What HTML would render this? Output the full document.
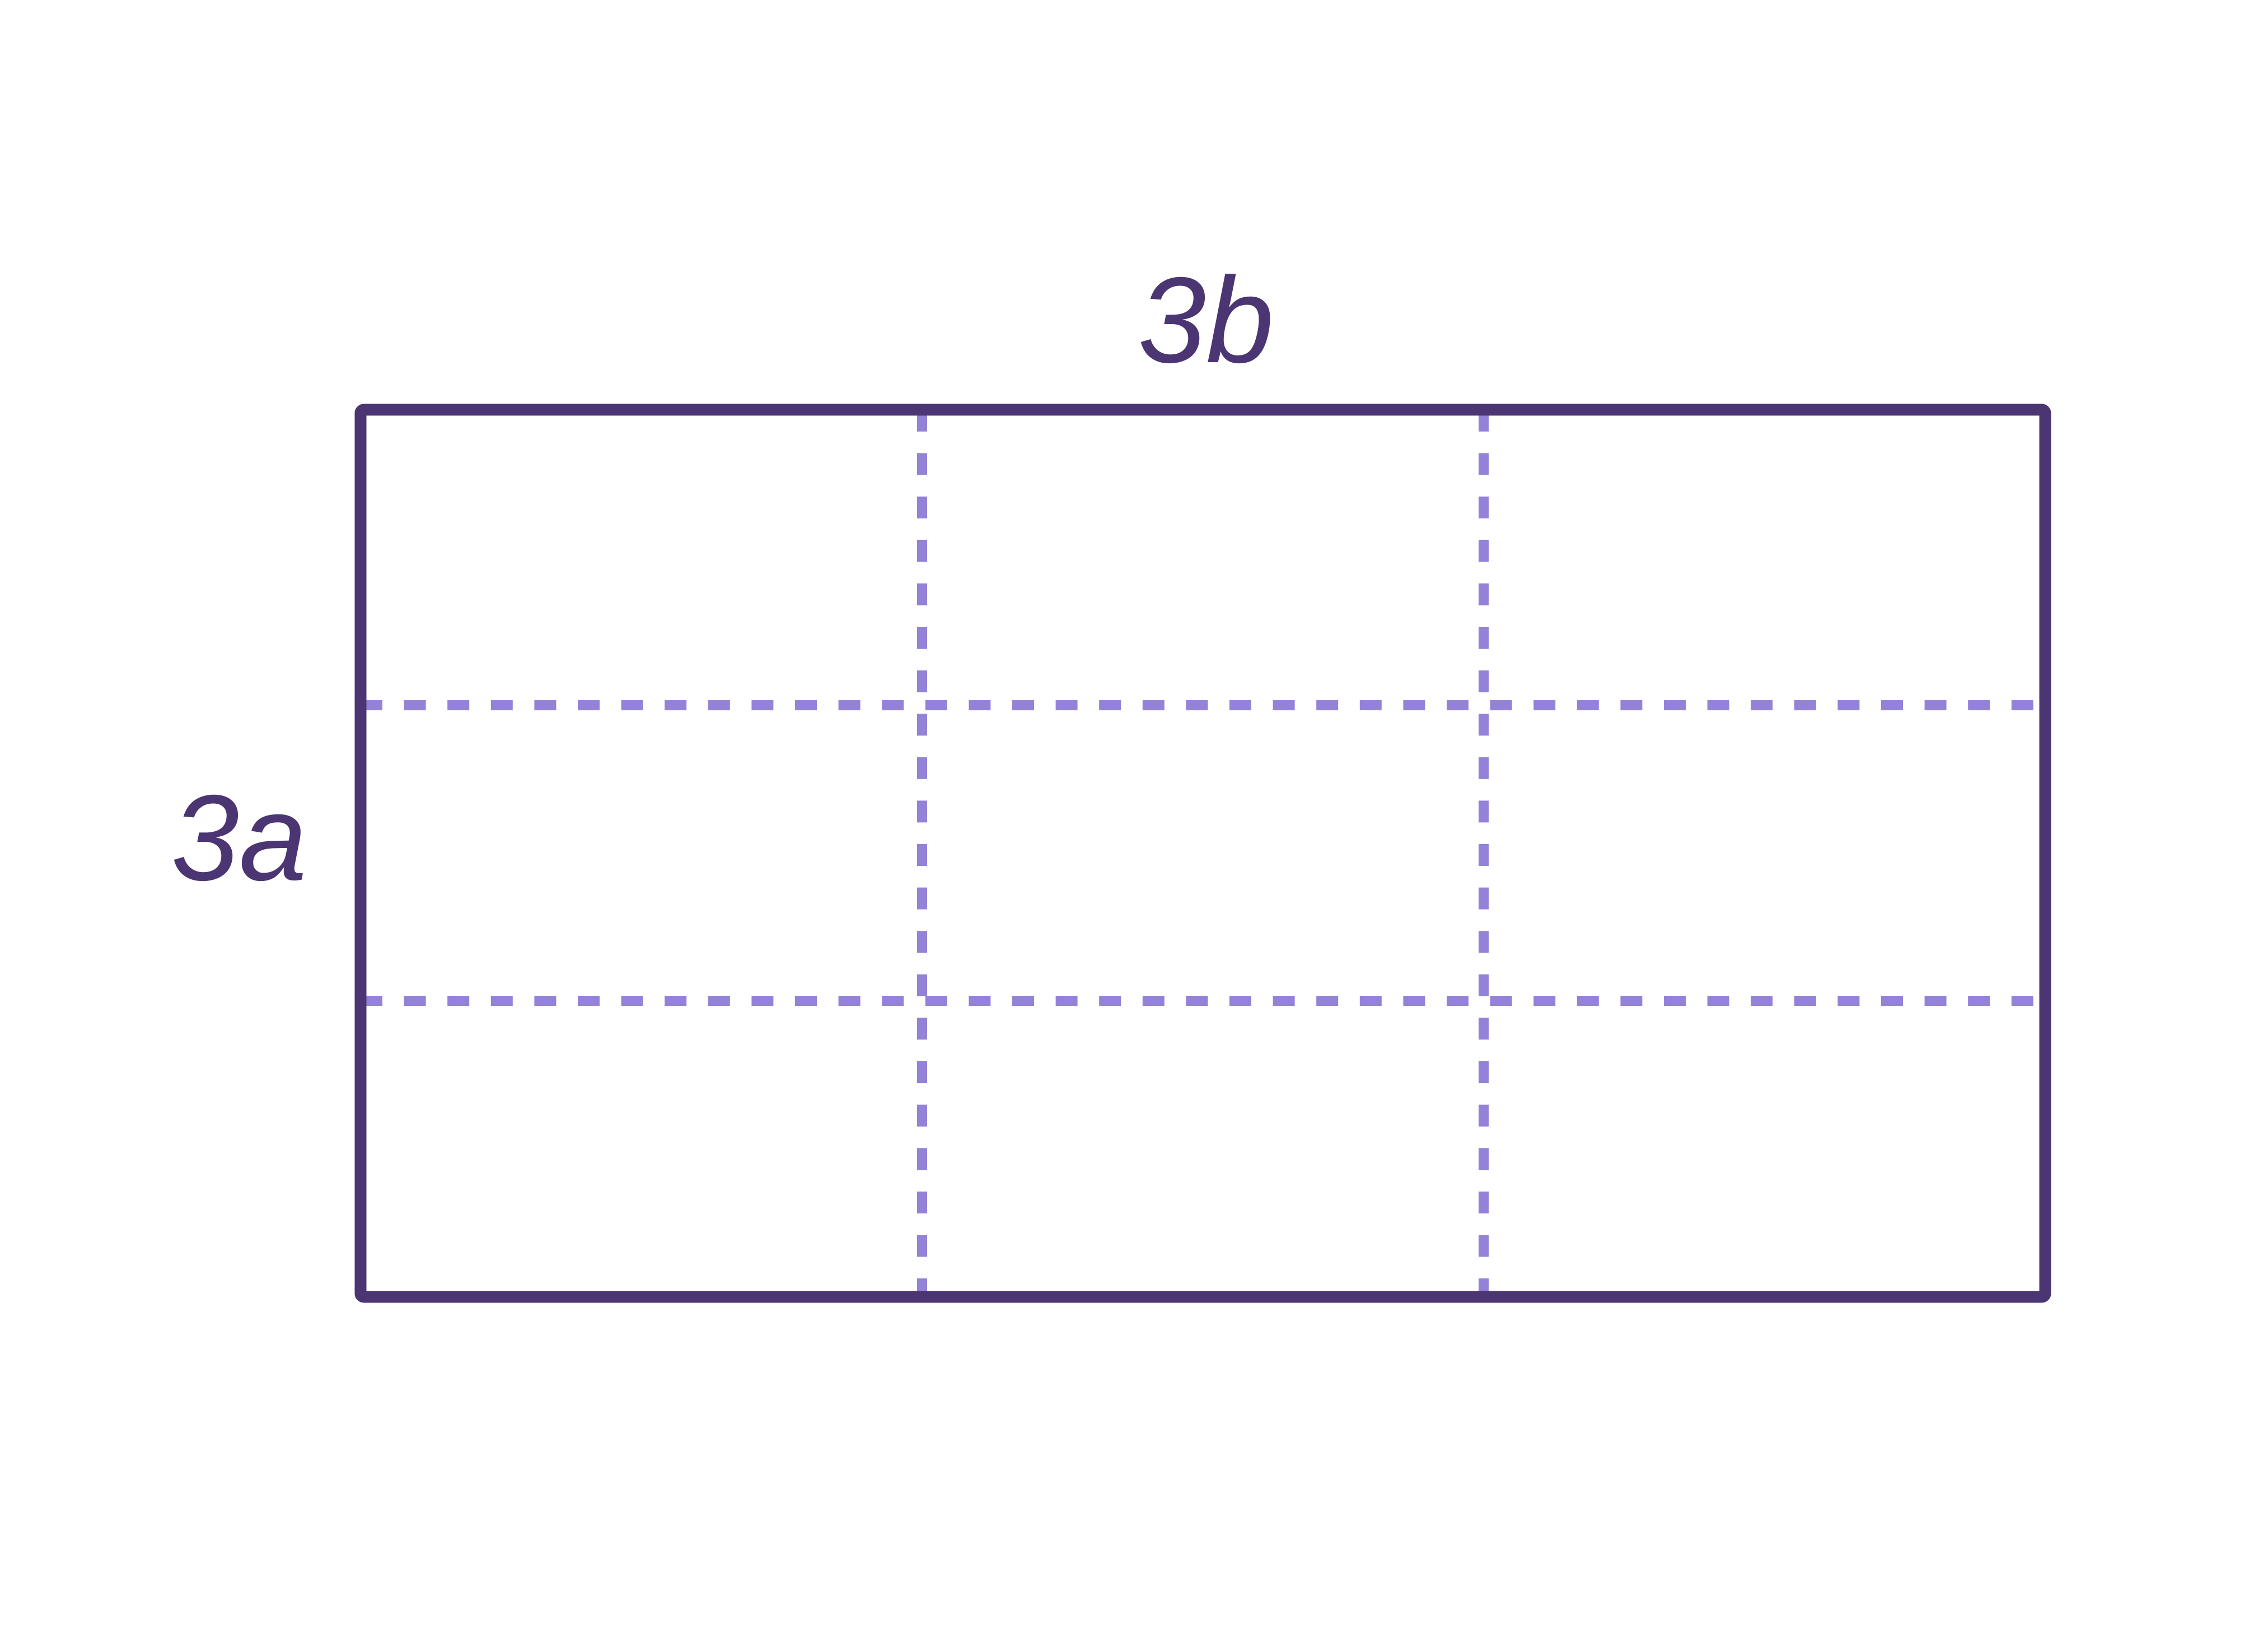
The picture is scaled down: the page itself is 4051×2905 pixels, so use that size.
<!DOCTYPE html>
<html>
<head>
<meta charset="utf-8">
<style>
html,body{margin:0;padding:0;background:#fff;}
svg{display:block;}
</style>
</head>
<body>
<svg width="4051" height="2905" viewBox="0 0 4051 2905" xmlns="http://www.w3.org/2000/svg">
  <rect x="0" y="0" width="4051" height="2905" fill="#ffffff"/>
  <g stroke="#9382d8" stroke-width="18" stroke-dasharray="39 38.6" stroke-linecap="butt" fill="none">
    <line x1="1647" y1="732" x2="2647" y2="732" stroke="none"/>
    <line x1="1647" y1="732" x2="1647" y2="2317"/>
    <line x1="2650" y1="732" x2="2650" y2="2317"/>
    <line x1="644" y1="1260" x2="3653" y2="1260"/>
    <line x1="644" y1="1788" x2="3653" y2="1788"/>
  </g>
  <rect x="644" y="732" width="3009" height="1585" rx="6" fill="none" stroke="#4b3572" stroke-width="21" stroke-linejoin="round"/>
  <text x="2154" y="647" text-anchor="middle" font-family="'Liberation Sans', sans-serif" font-style="italic" font-size="218" fill="#4b3572">3b</text>
  <text x="427" y="1572" text-anchor="middle" font-family="'Liberation Sans', sans-serif" font-style="italic" font-size="218" fill="#4b3572">3a</text>
</svg>
</body>
</html>
